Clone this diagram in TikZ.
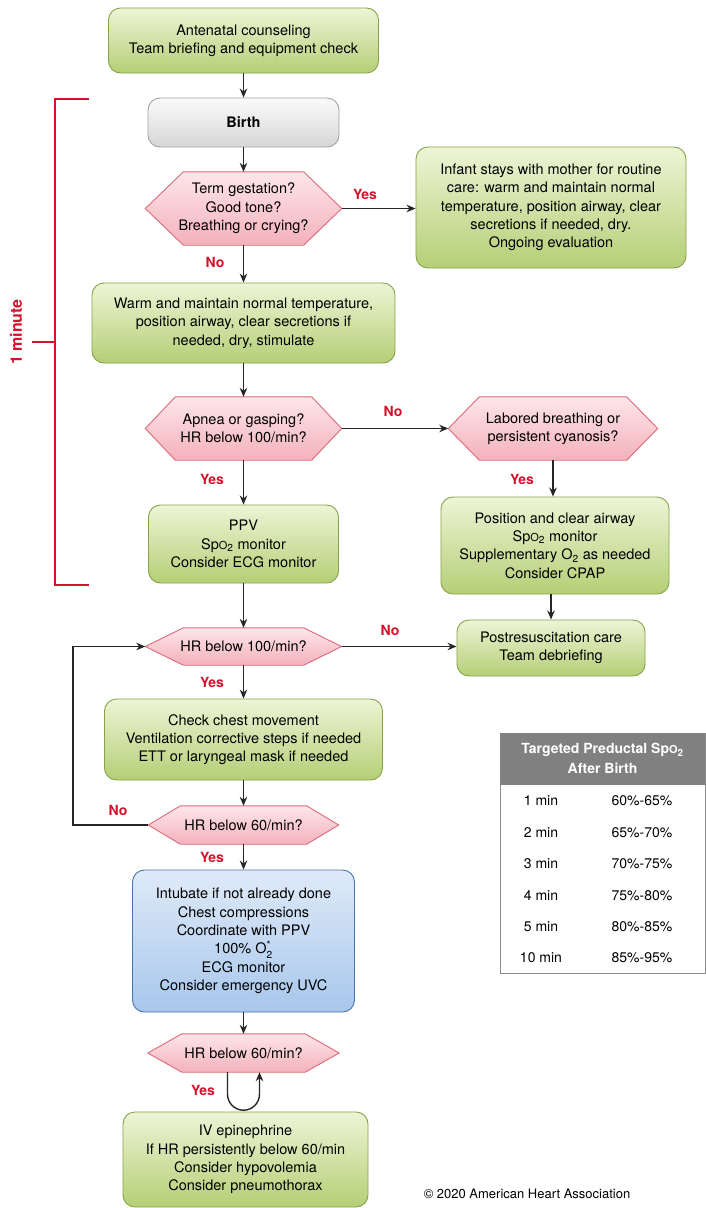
\documentclass[tikz,border=0pt]{standalone}
\usepackage{fontspec}
\usepackage{amsmath}
\setmainfont{TeX Gyre Heros}
\usetikzlibrary{arrows.meta,backgrounds}
\definecolor{gtop}{HTML}{EEF4D6}
\definecolor{gbot}{HTML}{B4CF76}
\definecolor{gline}{HTML}{86A447}
\definecolor{ptop}{HTML}{FDE6EA}
\definecolor{pbot}{HTML}{F4B1BB}
\definecolor{pline}{HTML}{DD6A78}
\definecolor{wtop}{HTML}{FBFBFB}
\definecolor{wbot}{HTML}{D6D6D6}
\definecolor{wline}{HTML}{A3A3A3}
\definecolor{btop}{HTML}{DFEAF8}
\definecolor{bbot}{HTML}{A7C7EC}
\definecolor{bline}{HTML}{4674AE}
\definecolor{ahared}{HTML}{D3122B}
\definecolor{theadc}{HTML}{808080}
\definecolor{tline}{HTML}{8C8C8C}
\newcommand\SpOtwo{Sp{\fontsize{11}{11}\selectfont O}\textsubscript{2}}
\newcommand\Otwo{O\textsubscript{2}}
\newcommand\hexpath[2]{\path[hexfill] (#1.west) -- ([xshift=#2pt]#1.north west) -- ([xshift=-#2pt]#1.north east) -- (#1.east) -- ([xshift=-#2pt]#1.south east) -- ([xshift=#2pt]#1.south west) -- cycle;}
\begin{document}
\begin{tikzpicture}[x=1pt,y=-1pt,
  txt/.style={font=\fontsize{14.5}{18.3}\selectfont, align=center, inner sep=0pt},
  gbox/.style={txt, rounded corners=12pt, draw=gline, line width=0.9pt, top color=gtop, bottom color=gbot},
  wbox/.style={txt, rounded corners=12pt, draw=wline, line width=0.9pt, top color=wtop, bottom color=wbot},
  blubox/.style={txt, rounded corners=12pt, draw=bline, line width=0.9pt, top color=btop, bottom color=bbot},
  hexnode/.style={txt},
  hexfill/.style={draw=pline, line width=0.9pt, top color=ptop, bottom color=pbot},
  arr/.style={draw=black!85, line width=1.4pt, -{Stealth[length=9pt,width=7.5pt]}},
  lbl/.style={font=\fontsize{14}{14}\selectfont\bfseries, text=ahared, inner sep=0pt},
  cell/.style={font=\fontsize{14}{14}\selectfont, inner sep=0pt}]

\useasboundingbox (0,0) rectangle (706,1208);

% main column
\node[gbox,minimum width=270,minimum height=65] (ante) at (243.5,40.5) {Antenatal counseling\\Team briefing and equipment check};
\node[wbox,minimum width=191,minimum height=49,font=\fontsize{14.5}{18.3}\selectfont\bfseries] (birth) at (243.5,122.5) {Birth};
\node[hexnode,minimum width=196,minimum height=73] (d1) at (243.5,208.5) {Term gestation?\\Good tone?\\Breathing or crying?};
\node[gbox,minimum width=270,minimum height=121] (infant) at (551,207.5) {Infant stays with mother for routine\\care: warm and maintain normal\\temperature, position airway, clear\\secretions if needed, dry.\\Ongoing evaluation};
\node[gbox,minimum width=303,minimum height=80] (warm) at (243.5,323) {Warm and maintain normal temperature,\\position airway, clear secretions if\\needed, dry, stimulate};
\node[hexnode,minimum width=196,minimum height=63] (d2) at (243.5,428.5) {Apnea or gasping?\\HR below 100/min?};
\node[hexnode,minimum width=209,minimum height=63] (d3) at (553,428.5) {Labored breathing or\\persistent cyanosis?};
\node[gbox,minimum width=190,minimum height=78] (ppv) at (243.5,544) {PPV\\\SpOtwo{} monitor\\Consider ECG monitor};
\node[gbox,minimum width=228,minimum height=97] (resp) at (555,545.5) {Position and clear airway\\\SpOtwo{} monitor\\Supplementary \Otwo{} as needed\\Consider CPAP};
\node[hexnode,minimum width=196,minimum height=37] (d4) at (243.5,646.5) {HR below 100/min?};
\node[gbox,minimum width=188,minimum height=56] (post) at (551,648) {Postresuscitation care\\Team debriefing};
\node[gbox,minimum width=278,minimum height=81] (check) at (243.5,739.5) {Check chest movement\\Ventilation corrective steps if needed\\ETT or laryngeal mask if needed};
\node[hexnode,minimum width=190,minimum height=38] (d5) at (243.5,825) {HR below 60/min?};
\node[blubox,minimum width=222,minimum height=142] (cc) at (243.5,941) {Intubate if not already done\\Chest compressions\\Coordinate with PPV\\100\% O$_{\text{2}}^{\text{*}}$\\ECG monitor\\Consider emergency UVC};
\node[hexnode,minimum width=191,minimum height=38] (d6) at (243.5,1053) {HR below 60/min?};
\node[gbox,minimum width=245,minimum height=95] (epi) at (245.5,1159.5) {IV epinephrine\\If HR persistently below 60/min\\Consider hypovolemia\\Consider pneumothorax};

% hexagon outlines behind the text
\begin{scope}[on background layer]
  \fill[white] (0,0) rectangle (706,1208);
  \hexpath{d1}{38}
  \hexpath{d2}{30}
  \hexpath{d3}{31}
  \hexpath{d4}{38}
  \hexpath{d5}{32}
  \hexpath{d6}{34}
\end{scope}

% labels
\node[lbl] (y1) at (365,194) {Yes};
\node[lbl] (n1) at (215,262) {No};
\node[lbl] (n2) at (393,411) {No};
\node[lbl] (y2) at (212,479) {Yes};
\node[lbl] (y3) at (522,479) {Yes};
\node[lbl] (n4) at (390,630) {No};
\node[lbl] (y4) at (212,682) {Yes};
\node[lbl] (n5) at (118,810) {No};
\node[lbl] (y5) at (212,857) {Yes};
\node[lbl] (y6) at (203,1090) {Yes};

% connectors
\draw[arr] (ante) -- (birth);
\draw[arr] (birth) -- (d1);
\draw[arr] (d1.east) -- (d1.east -| infant.west);
\draw[arr] (d1) -- (warm);
\draw[arr] (warm) -- (d2);
\draw[arr] (d2.east) -- (d2.east -| d3.west);
\draw[arr] (d2) -- (ppv);
\draw[arr] (d3.south) -- (d3.south |- resp.north);
\draw[arr] (resp.south -| post.north) -- (post.north);
\draw[arr] (ppv) -- (d4);
\draw[arr] (d4.east) -- (d4.east -| post.west);
\draw[arr] (d4) -- (check);
\draw[arr] (check) -- (d5);
\coordinate (loopx) at (73,646);
\draw[arr] (d5.west) -- (d5.west -| loopx) |- (d4.west);
\draw[arr] (d5) -- (cc);
\draw[arr] (cc) -- (d6);
\draw[arr] ([xshift=-16pt]d6.south) -- ++(0,22) arc[start angle=180,end angle=360,radius=16pt] -- ([xshift=16pt]d6.south);

% 1 minute bracket
\draw[ahared,line width=1.6pt] (89,99) -- (55,99) -- (55,585) -- (89,585);
\draw[ahared,line width=1.6pt] (32,342) -- (55,342);
\node[lbl,rotate=90,font=\fontsize{16}{16}\selectfont\bfseries] (onemin) at (16,332) {1 minute};

% table
\node[draw=tline,line width=0.8pt,minimum width=205,minimum height=240,inner sep=0pt] (tbl) at (602.5,853) {};
\node[fill=theadc,minimum width=205,minimum height=52,inner sep=0pt,anchor=north,text=white,font=\fontsize{14}{20}\selectfont\bfseries,align=center] (thd) at (tbl.north) {Targeted Preductal \SpOtwo\\After Birth};
\foreach \t/\v [count=\k] in {1 min/60\%-65\%,2 min/65\%-70\%,3 min/70\%-75\%,4 min/75\%-80\%,5 min/80\%-85\%,10 min/85\%-95\%}{
  \node[cell] (ta\k) at (541,{801+(\k-1)*31.4}) {\t};
  \node[cell] (tb\k) at (642,{801+(\k-1)*31.4}) {\v};
}

\node[font=\fontsize{13}{13}\selectfont,inner sep=0pt] (copy) at (527,1194) {\textcopyright{} 2020 American Heart Association};
\end{tikzpicture}
\end{document}
